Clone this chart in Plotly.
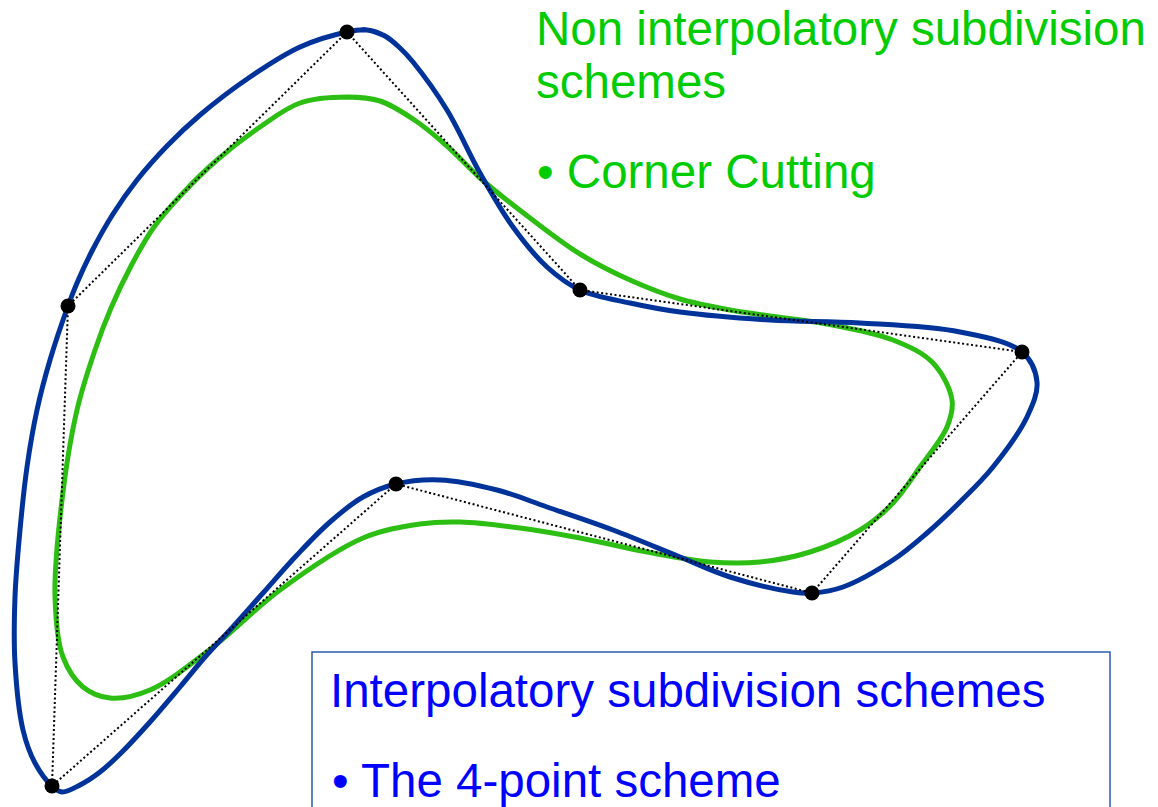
import plotly.graph_objects as go

# Control polygon (pixel-like coordinates, y grows downwards)
ctrl_x = [347, 580, 1022, 812, 396, 52, 68]
ctrl_y = [32, 290, 352, 593, 484, 786, 306]

# Interpolatory curve (4-point scheme), clockwise from the top point
blue_x = [347, 367, 385, 400, 413, 447, 480, 513, 547, 580, 630, 680, 770, 860, 960, 1022,
          1037, 1027, 993, 960, 927, 893, 843, 813, 793, 730, 680, 613, 547, 497, 440, 396,
          363, 330, 297, 263, 230, 205, 180, 150, 120, 100, 80, 62, 52, 35, 23, 15, 15, 20,
          27, 37, 50, 68, 77, 92, 113, 137, 167, 200, 250, 300]
blue_y = [32, 30, 36, 48, 62, 110, 173, 227, 267, 290, 303, 312, 320, 323, 332, 352,
          382, 417, 467, 502, 533, 560, 587, 593, 592, 577, 557, 530, 507, 490, 480, 484,
          497, 522, 555, 593, 630, 657, 687, 722, 754, 772, 785, 792, 786, 763, 730, 663, 597, 530,
          467, 410, 360, 306, 283, 251, 214, 180, 146, 115, 77, 47]

# Corner cutting curve, clockwise from the top
green_x = [347, 380, 413, 447, 480, 530, 580, 630, 680, 730, 770, 827, 893, 933, 952, 947,
           920, 893, 860, 810, 760, 710, 647, 580, 520, 460, 420, 363, 280, 213, 150, 110,
           83, 63, 55, 62, 77, 95, 111, 131, 154, 183, 217, 260, 300]
green_y = [97, 101, 119, 146, 178, 218, 254, 280, 299, 310, 316, 324, 340, 363, 400, 427,
           467, 503, 530, 552, 562, 562, 552, 538, 528, 522, 524, 538, 590, 647, 690, 698,
           687, 657, 597, 500, 410, 350, 308, 266, 227, 193, 160, 127, 103]

green_lines = ["Non interpolatory subdivision", "schemes", "• Corner Cutting"]
green_line_x = [534, 534, 535]
green_line_y = [28, 81, 171]
blue_lines = ["Interpolatory subdivision schemes", "• The 4-point scheme"]
blue_line_x = [328, 330]
blue_line_y = [690, 780]

BLUE = "#003399"
GREEN = "#2DBE14"
FONT = "Liberation Sans, Arial, sans-serif"


def closed(xs, ys, extra=3):
    # repeat the first few points so the spline seam is drawn smoothly
    return list(xs) + list(xs[:extra]), list(ys) + list(ys[:extra])


fig = go.Figure()
gx, gy = closed(green_x, green_y)
fig.add_trace(go.Scatter(x=gx, y=gy, mode="lines", line=dict(color=GREEN, width=5, shape="spline")))
bx, by = closed(blue_x, blue_y)
fig.add_trace(go.Scatter(x=bx, y=by, mode="lines", line=dict(color=BLUE, width=5, shape="spline")))
fig.add_trace(go.Scatter(x=ctrl_x + ctrl_x[:1], y=ctrl_y + ctrl_y[:1], mode="lines",
                         line=dict(color="black", width=2, dash="2px,2.5px")))
fig.add_trace(go.Scatter(x=ctrl_x, y=ctrl_y, mode="markers",
                         marker=dict(color="black", size=15)))

fig.add_shape(type="rect", x0=312, x1=1110, y0=652, y1=830, xref="x", yref="y",
              line=dict(color="#2B5BAF", width=1.5), fillcolor="rgba(0,0,0,0)")

for txt, x, y in zip(green_lines, green_line_x, green_line_y):
    fig.add_annotation(x=x, y=y, text=txt, showarrow=False, xanchor="left", yanchor="middle",
                       font=dict(family=FONT, size=47.5, color="#00CC00"))
for txt, x, y in zip(blue_lines, blue_line_x, blue_line_y):
    fig.add_annotation(x=x, y=y, text=txt, showarrow=False, xanchor="left", yanchor="middle",
                       font=dict(family=FONT, size=47.5, color="#0000FF"))

fig.update_layout(
    width=1158, height=807, margin=dict(l=0, r=0, t=0, b=0),
    paper_bgcolor="white", plot_bgcolor="white", showlegend=False,
    xaxis=dict(range=[0, 1158], visible=False, fixedrange=True),
    yaxis=dict(range=[807, 0], visible=False, fixedrange=True),
)

fig.write_html("out.html", config={"displayModeBar": False},
               post_script="document.body.style.margin='0';")
